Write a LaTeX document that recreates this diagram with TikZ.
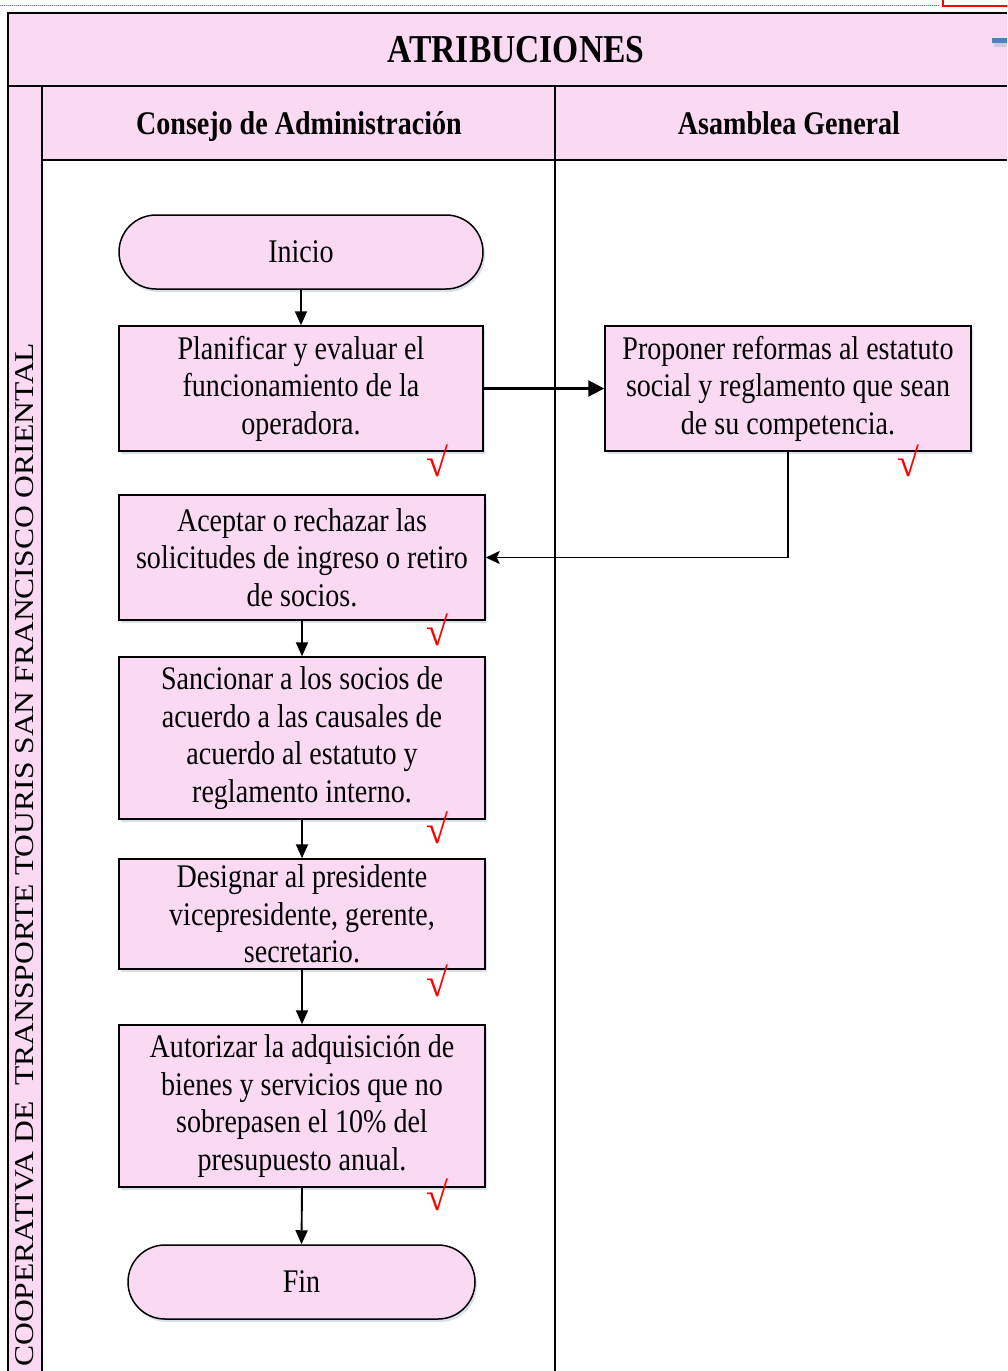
\documentclass[tikz,border=0pt]{standalone}
\usepackage{fontspec}
\setmainfont{Liberation Serif}[FakeStretch=0.85]
\newfontfamily\sidefont{Liberation Serif}
\usetikzlibrary{arrows.meta,shadows,calc}

\definecolor{lanepink}{RGB}{249,218,242}
\definecolor{shadowblue}{RGB}{150,170,200}
\definecolor{tabblue}{RGB}{79,129,189}

\tikzset{
  frame/.style={line width=1.6pt, black},
  box/.style={draw=black, line width=1.5pt, fill=lanepink, align=center,
    inner sep=0pt, font=\fontsize{33}{37.5}\selectfont,
    drop shadow={shadow xshift=2pt, shadow yshift=-3pt, fill=shadowblue, opacity=0.35}},
  terminal/.style={box, rounded corners=37pt, minimum height=74pt},
  flow/.style={line width=1.9pt, -{Triangle[length=14pt,width=12pt]}},
  bigflow/.style={line width=2.2pt, -{Triangle[length=16pt,width=16pt]}},
  backflow/.style={line width=1.9pt, -{Stealth[length=14pt,width=13pt,inset=3pt]}},
  tick/.style={text=red, inner sep=0pt, font=\sidefont\fontsize{40}{40}\selectfont},
  header/.style={font=\bfseries\fontsize{33}{36}\selectfont, inner sep=0pt, anchor=base}
}

\begin{document}
\begin{tikzpicture}[x=1pt,y=-1pt]
\useasboundingbox (0,0) rectangle (1007,1371);

% page marks along the top edge
\draw[red!70, line width=1pt, densely dotted] (0,5) -- (940,5);
\draw[red, line width=1.6pt] (943,0) -- (943,6) -- (1007,6);

% pool and lane backgrounds
\fill[lanepink] (8,13) rectangle (1007,86);
\fill[lanepink] (8,86) rectangle (42,1371);
\fill[lanepink] (42,86) rectangle (1007,160);

% blue tab peeking in on the right
\fill[shadowblue, opacity=0.4] (994,41) rectangle (1007,47);
\fill[tabblue] (992,38) rectangle (1007,43);

% pool and lane borders
\draw[frame] (1007,13) -- (8,13) -- (8,1371);
\draw[frame] (8,86) -- (1007,86);
\draw[frame] (42,86) -- (42,1371);
\draw[frame] (42,160) -- (1007,160);
\draw[frame] (555,86) -- (555,1371);

% titles
\node[font=\bfseries\fontsize{39.5}{42}\selectfont, inner sep=0pt, anchor=base] (title) at (516,62) {ATRIBUCIONES};
\node[header] (laneA) at (299,134) {Consejo de Administración};
\node[header] (laneB) at (789,134) {Asamblea General};
\node[rotate=90, anchor=west, inner sep=0pt] (pool) at (25,1367)
  {\scalebox{1}[0.86]{\sidefont\fontsize{31.6}{31.6}\selectfont COOPERATIVA DE\ \ TRANSPORTE TOURIS SAN FRANCISCO ORIENTAL}};

% process steps
\node[terminal, minimum width=364pt] (inicio) at (301,252) {Inicio};
\node[box, minimum width=364pt, minimum height=125pt] (plan) at (301,388.5)
  {Planificar y evaluar el\\funcionamiento de la\\operadora.};
\node[box, minimum width=366pt, minimum height=125pt] (prop) at (788,388.5)
  {Proponer reformas al estatuto\\social y reglamento que sean\\de su competencia.};
\node[box, minimum width=366pt, minimum height=125pt] (acep) at (302,557.5)
  {Aceptar o rechazar las\\solicitudes de ingreso o retiro\\de socios.};
\node[box, minimum width=366pt, minimum height=162pt] (sanc) at (302,738)
  {Sancionar a los socios de\\acuerdo a las causales de\\acuerdo al estatuto y\\reglamento interno.};
\node[box, minimum width=366pt, minimum height=110pt] (desig) at (302,914)
  {Designar al presidente\\vicepresidente, gerente,\\secretario.};
\node[box, minimum width=366pt, minimum height=162pt] (auto) at (302,1106)
  {Autorizar la adquisición de\\bienes y servicios que no\\sobrepasen el 10\% del\\presupuesto anual.};
\node[terminal, minimum width=347pt] (fin) at (301.5,1282) {Fin};

% check marks
\node[tick] (c1) at (437,461) {√};
\node[tick] (c2) at (908,461) {√};
\node[tick] (c3) at (437,630) {√};
\node[tick] (c4) at (437,828) {√};
\node[tick] (c5) at (437,981) {√};
\node[tick] (c6) at (437,1195) {√};

% connectors
\draw[flow] (inicio.south) -- (plan.north);
\draw[bigflow] (plan.east) -- (prop.west);
\draw[backflow] (prop.south) |- (acep.east);
\draw[flow] (acep.south) -- (sanc.north);
\draw[flow] (sanc.south) -- (desig.north);
\draw[flow] (desig.south) -- (auto.north);
\draw[flow] (auto.south) -- (fin.north);
\end{tikzpicture}
\end{document}
